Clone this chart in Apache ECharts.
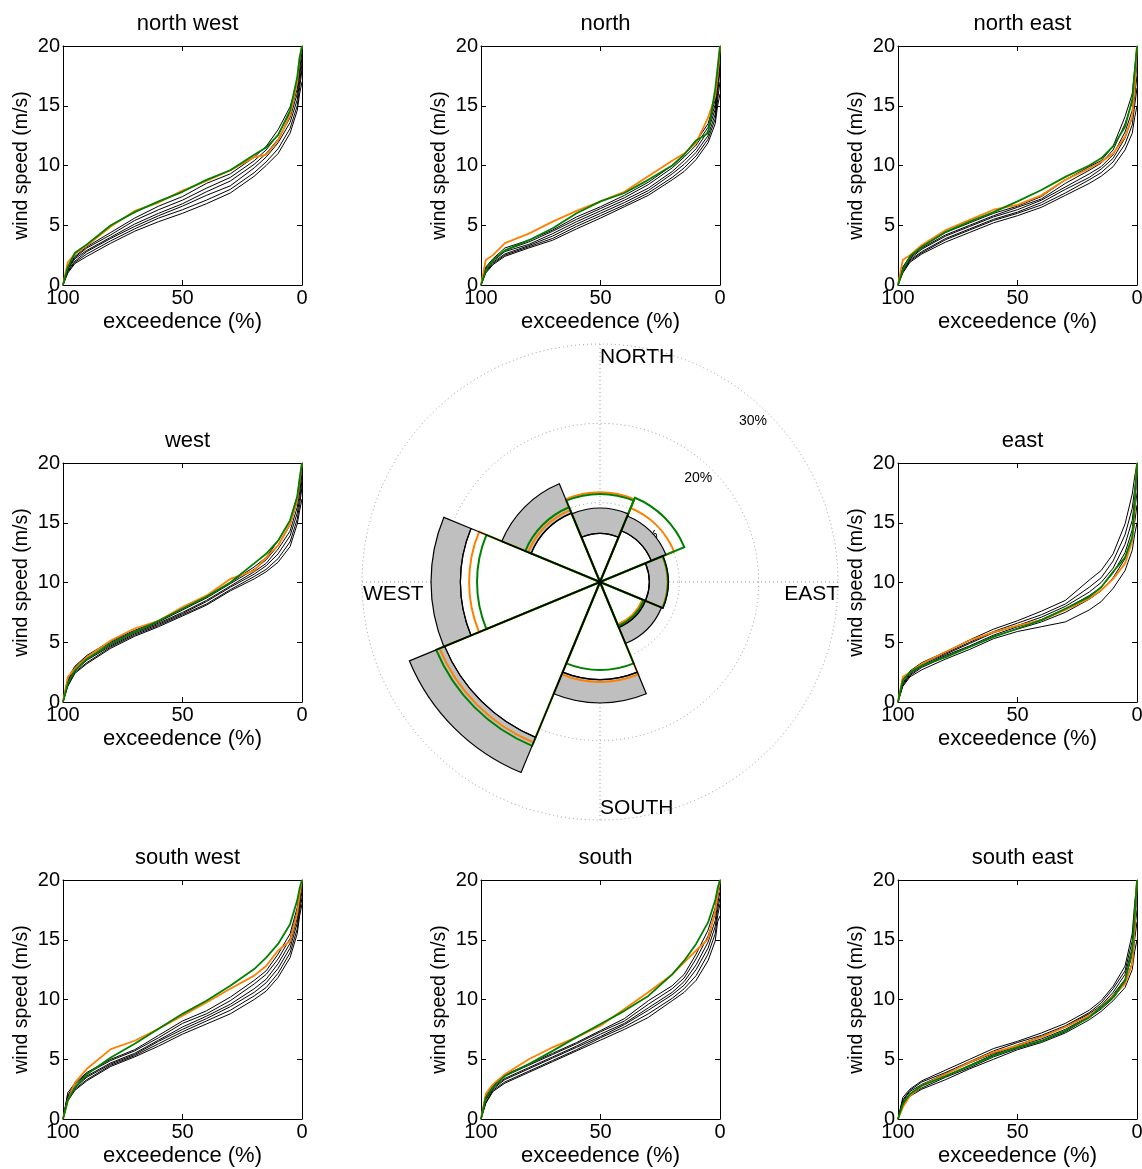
<!DOCTYPE html>
<html>
<head>
<meta charset="utf-8">
<title>Wind speed exceedence by direction</title>
<script src="https://cdn.jsdelivr.net/npm/echarts@6/dist/echarts.min.js"></script>
<style>
  html, body { margin: 0; padding: 0; background: #fff; }
  #chart { width: 1142px; height: 1169px; }
</style>
</head>
<body>
<div id="chart"></div>
<script>
// exceedence levels (%) at which every curve was read
const exceedence = [100, 98, 95, 90, 80, 70, 60, 50, 40, 30, 20, 15, 10, 5, 2, 1, 0];

// wind speed (m/s) curves, one block per direction panel
const nwBlack = [
  [0, 1.0, 1.8, 2.4, 3.5, 4.5, 5.3, 6.0, 6.8, 7.7, 9.1, 10.0, 11.0, 12.7, 14.6, 16.0, 17.0],
  [0, 1.1, 1.9, 2.6, 3.7, 4.7, 5.6, 6.3, 7.1, 8.0, 9.4, 10.3, 11.4, 13.1, 15.0, 16.5, 18.0],
  [0, 1.2, 2.0, 2.8, 3.9, 4.9, 5.8, 6.6, 7.5, 8.3, 9.8, 10.7, 11.9, 13.6, 15.5, 17.0, 18.5],
  [0, 1.3, 2.2, 2.9, 4.0, 5.1, 6.0, 6.8, 7.8, 8.7, 10.1, 11.0, 12.2, 14.0, 16.0, 17.5, 19.0],
  [0, 1.4, 2.3, 3.1, 4.2, 5.4, 6.3, 7.1, 8.1, 9.0, 10.4, 11.3, 12.6, 14.4, 16.4, 18.0, 19.5],
  [0, 1.5, 2.4, 3.2, 4.4, 5.6, 6.6, 7.4, 8.5, 9.3, 10.7, 11.6, 13.0, 14.9, 16.9, 18.5, 20]
];
const nwOrange = [0, 1.9, 2.6, 3.3, 4.9, 6.2, 6.9, 7.9, 8.7, 9.6, 10.7, 10.9, 12.1, 14.2, 17.0, 19.0, 20];
const nwGreen = [0, 1.5, 2.7, 3.4, 5.0, 6.1, 7.0, 7.8, 8.8, 9.6, 10.9, 11.5, 12.55, 14.6, 17.4, 19.0, 20];

const nBlack = [
  [0, 1.0, 1.7, 2.4, 3.1, 3.75, 4.7, 5.6, 6.55, 7.5, 8.8, 9.5, 10.5, 11.9, 13.5, 15.0, 16.0],
  [0, 1.1, 1.8, 2.5, 3.2, 3.9, 4.9, 5.8, 6.7, 7.7, 9.0, 9.8, 10.8, 12.2, 13.9, 15.5, 17.0],
  [0, 1.2, 1.9, 2.6, 3.3, 4.1, 5.1, 6.0, 6.9, 7.9, 9.3, 10.1, 11.1, 12.5, 14.3, 16.0, 18.0],
  [0, 1.3, 2.0, 2.8, 3.4, 4.3, 5.3, 6.2, 7.1, 8.1, 9.5, 10.4, 11.4, 12.9, 14.7, 16.5, 18.5],
  [0, 1.4, 2.1, 2.9, 3.6, 4.5, 5.5, 6.4, 7.3, 8.4, 9.8, 10.7, 11.7, 13.2, 15.1, 17.0, 19.5],
  [0, 1.5, 2.2, 3.1, 3.75, 4.6, 5.7, 6.55, 7.5, 8.6, 10.0, 10.9, 12.0, 13.5, 15.5, 17.5, 20]
];
const nOrange = [0, 2.1, 2.5, 3.5, 4.3, 5.3, 6.2, 7.0, 7.8, 9.1, 10.4, 11.0, 11.9, 14.0, 15.8, 17.5, 20];
const nGreen = [0, 1.25, 2.1, 2.9, 3.75, 4.75, 6.0, 7.0, 7.7, 8.8, 10.0, 10.9, 12.1, 12.7, 16.4, 18.2, 20];

const neBlack = [
  [0, 1.0, 1.9, 2.6, 3.6, 4.4, 5.2, 5.8, 6.5, 7.5, 8.5, 9.1, 9.9, 11.3, 12.7, 14.0, 15.0],
  [0, 1.1, 2.0, 2.7, 3.8, 4.6, 5.4, 6.0, 6.7, 7.7, 8.8, 9.4, 10.3, 11.8, 13.4, 15.0, 16.5],
  [0, 1.2, 2.1, 2.8, 3.9, 4.7, 5.5, 6.1, 6.9, 8.0, 9.0, 9.7, 10.6, 12.3, 14.0, 15.8, 17.5],
  [0, 1.3, 2.2, 3.0, 4.1, 4.9, 5.7, 6.3, 7.1, 8.2, 9.3, 9.9, 10.9, 12.8, 14.6, 16.5, 18.5],
  [0, 1.4, 2.3, 3.1, 4.2, 5.0, 5.8, 6.5, 7.2, 8.5, 9.6, 10.2, 11.3, 13.5, 15.3, 17.2, 19.5],
  [0, 1.5, 2.4, 3.2, 4.4, 5.2, 6.0, 6.6, 7.4, 8.8, 9.9, 10.4, 11.6, 14.1, 16.0, 18.0, 20]
];
const neOrange = [0, 2.1, 2.5, 3.35, 4.6, 5.45, 6.3, 6.7, 7.5, 8.8, 9.75, 10.3, 11.0, 12.4, 14.1, 16.5, 20];
const neGreen = [0, 1.25, 2.4, 3.2, 4.45, 5.3, 6.1, 7.0, 7.95, 9.05, 10.0, 10.6, 11.6, 13.25, 15.5, 17.8, 20];

const wBlack = [
  [0, 1.3, 2.4, 3.2, 4.5, 5.5, 6.3, 7.2, 8.1, 9.3, 10.3, 10.9, 11.7, 13.0, 14.9, 16.0, 17.0],
  [0, 1.4, 2.5, 3.3, 4.6, 5.6, 6.4, 7.3, 8.2, 9.4, 10.5, 11.1, 12.0, 13.4, 15.3, 16.5, 18.0],
  [0, 1.6, 2.6, 3.5, 4.7, 5.7, 6.5, 7.4, 8.4, 9.6, 10.7, 11.4, 12.4, 13.9, 15.8, 17.0, 18.5],
  [0, 1.7, 2.7, 3.6, 4.8, 5.8, 6.6, 7.5, 8.5, 9.7, 10.9, 11.6, 12.8, 14.3, 16.3, 17.5, 19.0],
  [0, 1.8, 2.9, 3.8, 5.0, 5.9, 6.7, 7.7, 8.7, 9.9, 11.1, 11.9, 13.1, 14.8, 16.8, 18.0, 19.5],
  [0, 2.0, 3.0, 3.9, 5.1, 6.0, 6.8, 7.8, 8.8, 10.0, 11.3, 12.1, 13.5, 15.2, 17.2, 18.5, 20]
];
const wOrange = [0, 2.1, 2.8, 3.75, 5.15, 6.15, 6.8, 7.95, 8.9, 10.3, 11.0, 12.1, 13.1, 14.9, 16.9, 18.5, 20];
const wGreen = [0, 1.55, 2.65, 3.6, 4.9, 5.85, 6.8, 7.8, 8.8, 10.0, 11.6, 12.4, 13.5, 15.2, 17.2, 18.7, 20];

const eBlack = [
  [0, 1.3, 2.1, 2.7, 3.6, 4.4, 5.3, 5.9, 6.3, 6.7, 7.7, 8.4, 9.5, 11.0, 12.7, 14.0, 15.0],
  [0, 1.4, 2.2, 2.9, 3.8, 4.6, 5.5, 6.1, 6.7, 7.5, 8.6, 9.3, 10.4, 12.0, 13.6, 15.0, 16.5],
  [0, 1.5, 2.3, 3.0, 3.9, 4.7, 5.6, 6.3, 6.9, 7.8, 8.9, 9.6, 10.8, 12.5, 14.4, 16.0, 17.5],
  [0, 1.6, 2.4, 3.1, 4.0, 4.9, 5.8, 6.4, 7.1, 8.0, 9.2, 10.0, 11.2, 13.2, 15.2, 17.0, 18.5],
  [0, 1.8, 2.5, 3.2, 4.1, 5.0, 5.9, 6.6, 7.3, 8.2, 9.6, 10.4, 11.8, 14.0, 16.2, 17.8, 19.5],
  [0, 1.9, 2.6, 3.3, 4.2, 5.2, 6.1, 6.8, 7.6, 8.5, 10.2, 11.0, 12.4, 14.9, 17.4, 18.8, 20]
];
const eOrange = [0, 2.1, 2.5, 3.2, 4.2, 5.15, 5.85, 6.4, 6.85, 7.7, 8.65, 9.35, 10.3, 11.6, 13.5, 16.0, 20];
const eGreen = [0, 1.8, 2.5, 3.05, 3.75, 4.6, 5.45, 6.15, 6.85, 7.8, 8.8, 9.6, 10.9, 12.1, 13.8, 16.5, 20];

const swBlack = [
  [0, 1.5, 2.4, 3.2, 4.4, 5.2, 6.1, 7.1, 7.95, 8.8, 10.0, 10.7, 11.85, 13.5, 15.5, 17.0, 18.0],
  [0, 1.6, 2.5, 3.3, 4.5, 5.3, 6.3, 7.3, 8.2, 9.1, 10.3, 11.0, 12.2, 13.9, 15.9, 17.4, 18.5],
  [0, 1.8, 2.6, 3.5, 4.6, 5.4, 6.5, 7.5, 8.4, 9.4, 10.6, 11.4, 12.6, 14.3, 16.4, 17.8, 19.0],
  [0, 1.9, 2.7, 3.6, 4.7, 5.5, 6.6, 7.7, 8.6, 9.6, 10.9, 11.7, 13.0, 14.7, 16.8, 18.2, 19.5],
  [0, 2.0, 2.9, 3.8, 4.9, 5.7, 6.8, 8.0, 8.8, 9.9, 11.3, 12.1, 13.4, 15.1, 17.3, 18.6, 20],
  [0, 2.2, 3.0, 3.9, 5.0, 5.8, 7.0, 8.2, 9.05, 10.2, 11.6, 12.4, 13.8, 15.5, 17.7, 19.0, 20]
];
const swOrange = [0, 1.55, 3.05, 4.2, 5.85, 6.55, 7.55, 8.65, 9.75, 10.9, 12.0, 12.8, 14.1, 14.9, 17.2, 18.8, 20];
const swGreen = [0, 1.55, 2.65, 3.75, 5.15, 6.3, 7.55, 8.8, 9.9, 11.15, 12.55, 13.5, 14.65, 16.3, 18.3, 19.3, 20];

const sBlack = [
  [0, 1.3, 2.3, 3.0, 3.9, 4.8, 5.7, 6.6, 7.5, 8.5, 9.9, 10.6, 11.6, 13.25, 14.9, 16.5, 17.0],
  [0, 1.4, 2.4, 3.1, 4.0, 4.9, 5.8, 6.8, 7.7, 8.8, 10.1, 10.9, 12.0, 13.8, 15.5, 17.0, 18.0],
  [0, 1.6, 2.5, 3.3, 4.2, 5.1, 6.0, 6.9, 7.9, 9.1, 10.4, 11.2, 12.5, 14.3, 16.1, 17.5, 18.5],
  [0, 1.7, 2.6, 3.4, 4.3, 5.2, 6.1, 7.1, 8.0, 9.3, 10.6, 11.5, 12.9, 14.8, 16.6, 18.0, 19.0],
  [0, 1.8, 2.8, 3.6, 4.5, 5.4, 6.3, 7.3, 8.2, 9.6, 10.9, 11.8, 13.4, 15.3, 17.2, 18.5, 19.5],
  [0, 2.0, 2.9, 3.7, 4.6, 5.5, 6.4, 7.4, 8.4, 9.9, 11.15, 12.1, 13.8, 15.8, 17.7, 19.0, 20]
];
const sOrange = [0, 2.1, 2.9, 3.75, 5.0, 6.0, 6.85, 7.8, 9.2, 10.6, 12.1, 13.1, 14.1, 15.05, 17.4, 18.8, 20];
const sGreen = [0, 1.8, 2.65, 3.6, 4.6, 5.7, 6.85, 7.95, 9.05, 10.3, 12.1, 13.25, 14.65, 16.45, 18.3, 19.3, 20];

const seBlack = [
  [0, 1.1, 1.9, 2.5, 3.3, 4.2, 5.0, 5.8, 6.4, 7.2, 8.3, 9.0, 9.9, 11.0, 12.5, 14.0, 15.0],
  [0, 1.2, 2.0, 2.6, 3.5, 4.3, 5.2, 5.9, 6.5, 7.3, 8.5, 9.2, 10.1, 11.4, 13.1, 15.0, 16.5],
  [0, 1.4, 2.1, 2.8, 3.6, 4.5, 5.4, 6.1, 6.7, 7.5, 8.6, 9.4, 10.4, 11.7, 13.7, 15.8, 17.5],
  [0, 1.5, 2.3, 2.9, 3.8, 4.7, 5.5, 6.2, 6.9, 7.7, 8.8, 9.5, 10.6, 12.1, 14.3, 16.5, 18.5],
  [0, 1.6, 2.4, 3.1, 3.9, 4.8, 5.7, 6.4, 7.0, 7.8, 8.9, 9.7, 10.9, 12.4, 14.9, 17.2, 19.5],
  [0, 1.8, 2.5, 3.2, 4.1, 5.0, 5.9, 6.5, 7.2, 8.0, 9.1, 9.9, 11.1, 12.8, 15.5, 18.0, 20]
];
const seOrange = [0, 0.98, 1.95, 2.8, 3.75, 4.75, 5.6, 6.15, 6.85, 7.7, 8.65, 9.35, 10.3, 11.3, 13.0, 16.0, 20];
const seGreen = [0, 1.25, 2.1, 2.8, 3.6, 4.45, 5.3, 6.0, 6.55, 7.4, 8.5, 9.35, 10.2, 11.6, 14.1, 17.0, 20];

// wind rose: frequency (%) per direction sector
const roseDirections = ['N', 'NE', 'E', 'SE', 'S', 'SW', 'W', 'NW'];
const roseMin = [6.1, 7.0, 6.2, 6.2, 12.3, 21.2, 17.6, 9.4];
const roseMax = [9.3, 9.0, 8.6, 8.4, 15.25, 26.0, 21.3, 13.4];
const roseOrange = [11.3, 10.1, 8.5, 5.8, 12.6, 21.9, 16.5, 9.8];
const roseGreen = [11.1, 11.5, 8.55, 6.0, 11.1, 22.35, 15.5, 10.2];
const ringTicks = [10, 20, 30];
const compassLabels = ['NORTH', 'EAST', 'SOUTH', 'WEST'];

const font = 'Liberation Sans, Arial, Helvetica, sans-serif';
const ORANGE = '#ff8000';
const GREEN = '#008000';

const panels = [
  { title: 'north west', col: 0, row: 0, black: nwBlack, orange: nwOrange, green: nwGreen },
  { title: 'north', col: 1, row: 0, black: nBlack, orange: nOrange, green: nGreen },
  { title: 'north east', col: 2, row: 0, black: neBlack, orange: neOrange, green: neGreen },
  { title: 'west', col: 0, row: 1, black: wBlack, orange: wOrange, green: wGreen },
  { title: 'east', col: 2, row: 1, black: eBlack, orange: eOrange, green: eGreen },
  { title: 'south west', col: 0, row: 2, black: swBlack, orange: swOrange, green: swGreen },
  { title: 'south', col: 1, row: 2, black: sBlack, orange: sOrange, green: sGreen },
  { title: 'south east', col: 2, row: 2, black: seBlack, orange: seOrange, green: seGreen }
];
const colLeft = [63, 481, 898];
const rowTop = [46, 463, 880];
const boxSize = 239;

const grid = [], xAxis = [], yAxis = [], title = [], series = [];
const axisLine = { show: true, onZero: false, lineStyle: { color: '#000', width: 1 } };
const axisTick = { show: true, inside: true, length: 5, lineStyle: { color: '#000', width: 1 } };
const labelStyle = { color: '#000', fontSize: 20, fontFamily: font };
const nameStyle = { color: '#000', fontSize: 22, fontFamily: font };

panels.forEach((p, i) => {
  const left = colLeft[p.col], top = rowTop[p.row];
  grid.push({ left: left, top: top, width: boxSize, height: boxSize, containLabel: false, outerBoundsMode: 'none' });

  const xBase = { gridIndex: i, type: 'value', inverse: true, min: 0, max: 100, interval: 50,
    axisLine: axisLine, axisTick: axisTick, splitLine: { show: false } };
  xAxis.push(Object.assign({}, xBase, {
    position: 'bottom',
    axisLabel: Object.assign({ margin: 3 }, labelStyle),
    name: 'exceedence (%)', nameLocation: 'middle', nameGap: 26, nameTextStyle: nameStyle
  }));
  xAxis.push(Object.assign({}, xBase, { position: 'top', axisLabel: { show: false } }));

  const yBase = { gridIndex: i, type: 'value', min: 0, max: 20, interval: 5,
    axisLine: axisLine, axisTick: axisTick, splitLine: { show: false } };
  yAxis.push(Object.assign({}, yBase, {
    position: 'left',
    axisLabel: Object.assign({ margin: 3 }, labelStyle),
    name: 'wind speed (m/s)', nameLocation: 'middle', nameGap: 31,
    nameTextStyle: Object.assign({}, nameStyle, { fontSize: 19.5 })
  }));
  yAxis.push(Object.assign({}, yBase, { position: 'right', axisLabel: { show: false } }));

  title.push({ text: p.title, left: left + boxSize / 2, top: top - 38, textAlign: 'center',
    textStyle: { color: '#000', fontSize: 22, fontWeight: 'normal', fontFamily: font } });

  const pts = vals => exceedence.map((e, k) => [e, vals[k]]);
  p.black.forEach(vals => series.push({
    type: 'line', xAxisIndex: 2 * i, yAxisIndex: 2 * i, data: pts(vals),
    symbol: 'none', silent: true, z: 2,
    lineStyle: { color: '#000', width: 1 }
  }));
  series.push({ type: 'line', xAxisIndex: 2 * i, yAxisIndex: 2 * i, data: pts(p.orange),
    symbol: 'none', silent: true, z: 3, lineStyle: { color: ORANGE, width: 1.8 } });
  series.push({ type: 'line', xAxisIndex: 2 * i, yAxisIndex: 2 * i, data: pts(p.green),
    symbol: 'none', silent: true, z: 4, lineStyle: { color: GREEN, width: 1.8 } });
});

// wind rose bars: fills first, then coloured outlines, black outlines on top
const roseBand = roseMax.map((m, k) => +(m - roseMin[k]).toFixed(2));
const polarBar = (data, extra) => Object.assign({
  type: 'bar', coordinateSystem: 'polar', polarIndex: 0, data: data,
  barCategoryGap: '0%', barGap: '-100%', silent: true, z: 2
}, extra);
series.push(polarBar(roseMin, { stack: 'fill', itemStyle: { color: '#ffffff', borderWidth: 0 } }));
series.push(polarBar(roseBand, { stack: 'fill', itemStyle: { color: '#bfbfbf', borderWidth: 0 } }));
series.push(polarBar(roseOrange, { itemStyle: { color: 'rgba(0,0,0,0)', borderColor: ORANGE, borderWidth: 2 } }));
series.push(polarBar(roseGreen, { itemStyle: { color: 'rgba(0,0,0,0)', borderColor: GREEN, borderWidth: 2 } }));
series.push(polarBar(roseMin, { stack: 'line', itemStyle: { color: 'rgba(0,0,0,0)', borderColor: '#000', borderWidth: 1.2 } }));
series.push(polarBar(roseBand, { stack: 'line', itemStyle: { color: 'rgba(0,0,0,0)', borderColor: '#000', borderWidth: 1.2 } }));

const dotted = { color: '#999', width: 1, type: [1, 3] };
const option = {
  animation: false,
  backgroundColor: '#fff',
  title: title,
  grid: grid,
  xAxis: xAxis,
  yAxis: yAxis,
  polar: [
    { center: [600, 582], radius: 238 },
    { center: [600, 582], radius: 238 }
  ],
  angleAxis: [
    { polarIndex: 0, type: 'category', data: roseDirections, startAngle: 112.5, clockwise: true, boundaryGap: true,
      axisLine: { show: false }, axisTick: { show: false }, axisLabel: { show: false }, splitLine: { show: false } },
    { polarIndex: 1, type: 'value', min: 0, max: 360, interval: 90, startAngle: 90, clockwise: true,
      axisLine: { show: false }, axisTick: { show: false }, axisLabel: { show: false },
      splitLine: { show: true, lineStyle: dotted } }
  ],
  radiusAxis: [
    { polarIndex: 0, type: 'value', min: 0, max: 30,
      axisLine: { show: false }, axisTick: { show: false }, axisLabel: { show: false }, splitLine: { show: false } },
    { polarIndex: 1, type: 'value', min: 0, max: 30, interval: 10,
      axisLine: { show: false }, axisTick: { show: false }, axisLabel: { show: false },
      splitLine: { show: true, lineStyle: dotted } }
  ],
  series: series
};

const chart = echarts.init(document.getElementById('chart'));
chart.setOption(option);

// rose texts placed through the polar coordinate system
function toPx(r, a) {
  let p = null;
  try { p = chart.convertToPixel({ polarIndex: 1 }, [r, a]); } catch (e) { p = null; }
  if (!p) {
    const rad = (a * Math.PI) / 180, rr = (r / 30) * 238;
    p = [600 + rr * Math.sin(rad), 582 - rr * Math.cos(rad)];
  }
  return p;
}
const graphic = [];
const north = toPx(30, 0), east = toPx(30, 90), south = toPx(30, 180), west = toPx(30, 270);
const compassPlace = [
  { p: north, dx: 0, dy: 13, align: 'left' },
  { p: east, dx: 1, dy: 12, align: 'right' },
  { p: south, dx: 0, dy: -12, align: 'left' },
  { p: west, dx: 1, dy: 12, align: 'left' }
];
compassLabels.forEach((txt, k) => {
  const c = compassPlace[k];
  graphic.push({ type: 'text', x: c.p[0] + c.dx, y: c.p[1] + c.dy, z: 1, silent: true,
    style: { text: txt, fill: '#000', fontSize: 21, fontFamily: font, align: c.align, verticalAlign: 'middle' } });
});
ringTicks.forEach(v => {
  const p = toPx(v - 2, 43.5);
  graphic.push({ type: 'text', x: p[0], y: p[1], z: 0, silent: true,
    style: { text: v + '%', fill: '#000', fontSize: 14, fontFamily: font, align: 'center', verticalAlign: 'middle' } });
});
chart.setOption({ graphic: graphic });
</script>
</body>
</html>
